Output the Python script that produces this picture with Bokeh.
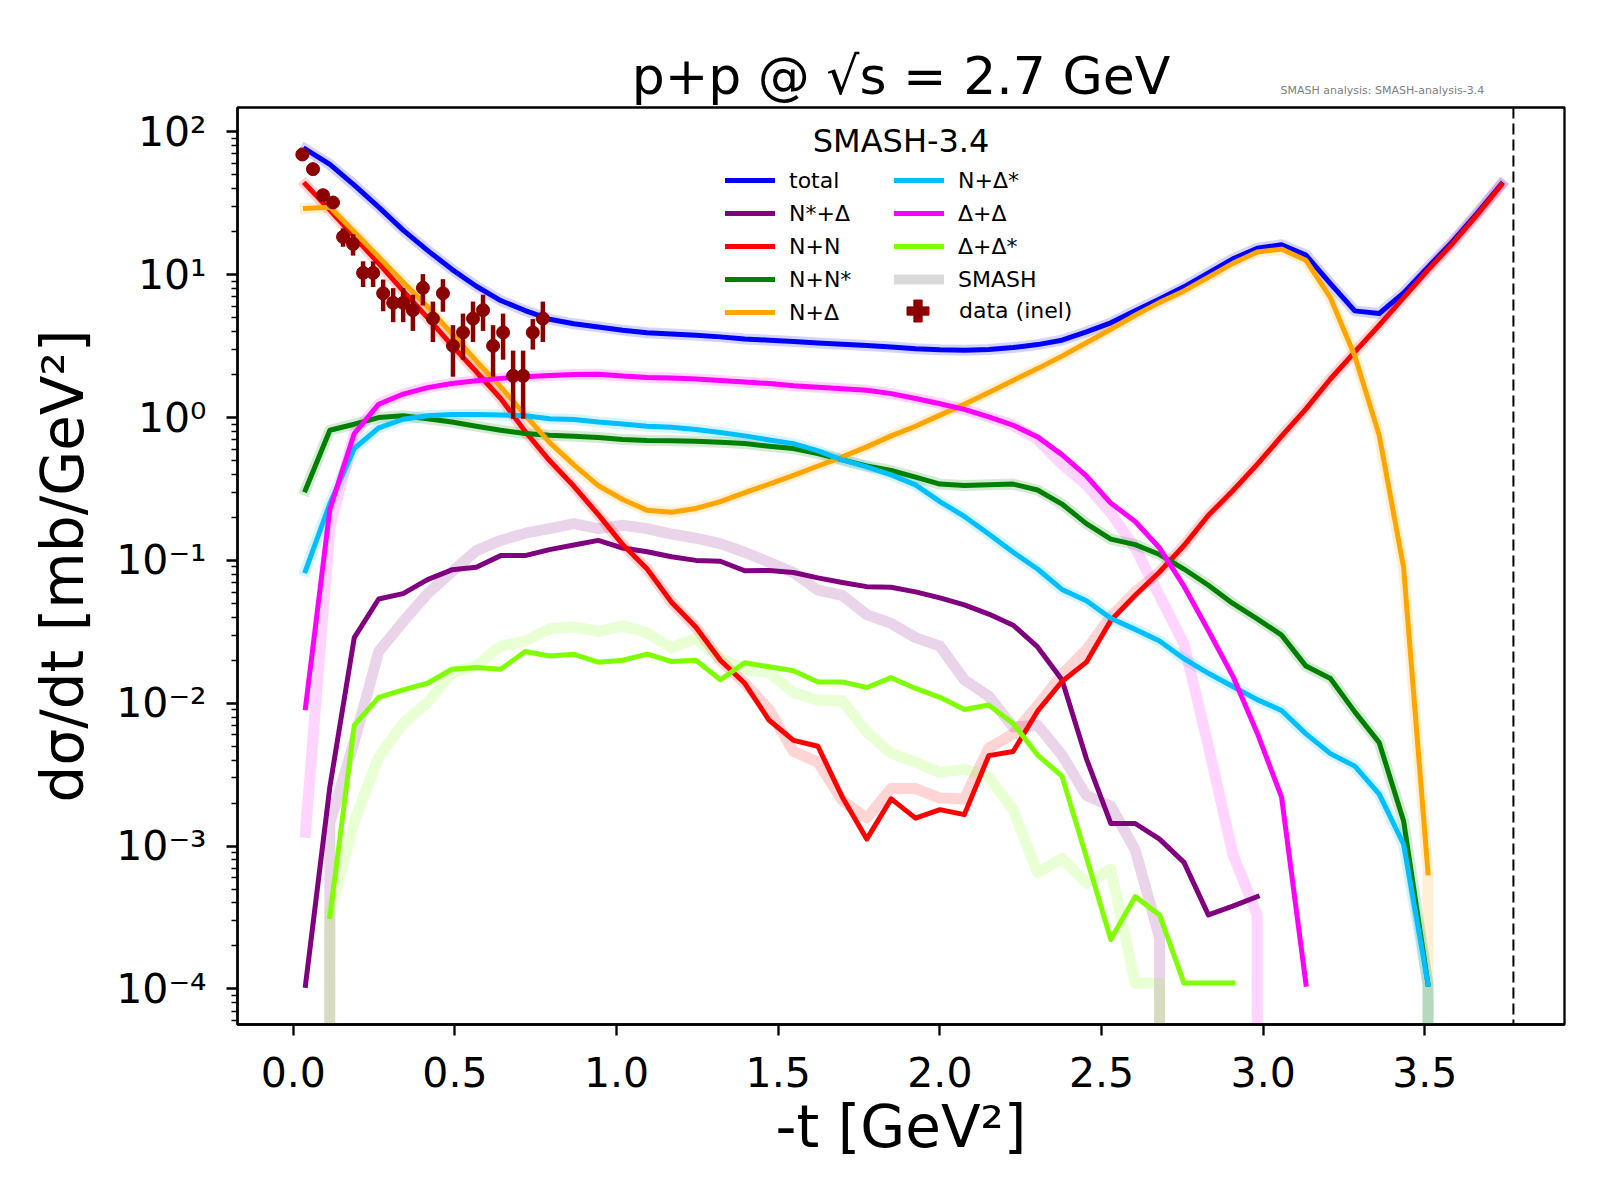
import numpy as np
from bokeh.plotting import figure
from bokeh.models import (Range1d, FixedTicker, CustomJSTickFormatter, Label,
                          Legend, LegendItem, Span, Title)
from bokeh.embed import file_html
from bokeh.resources import INLINE

FONT = "DejaVu Sans"

# ---------------- data ----------------
t_bins = [0.0377, 0.1132, 0.1887, 0.2642, 0.3397, 0.4151, 0.4906, 0.5661, 0.6416, 0.7171,
          0.7925, 0.8680, 0.9435, 1.0190, 1.0945, 1.1699, 1.2454, 1.3209, 1.3964, 1.4719,
          1.5473, 1.6228, 1.6983, 1.7738, 1.8493, 1.9247, 2.0002, 2.0757, 2.1512, 2.2267,
          2.3021, 2.3776, 2.4531, 2.5286, 2.6041, 2.6795, 2.7550, 2.8305, 2.9060, 2.9815,
          3.0569, 3.1324, 3.2079, 3.2834, 3.3589, 3.4343, 3.5098, 3.5853, 3.6608, 3.7363]
t_max = 3.774

total = [75.6, 59.1, 42.3, 29.7, 20.5, 14.8, 10.9, 8.3, 6.59, 5.61,
         4.88, 4.53, 4.31, 4.09, 3.92, 3.84, 3.77, 3.67, 3.55, 3.48,
         3.40, 3.33, 3.26, 3.19, 3.12, 3.03, 2.98, 2.96, 2.99, 3.09,
         3.24, 3.48, 3.98, 4.6, 5.6, 6.75, 8.22, 10.3, 12.9, 15.3,
         16.2, 13.7, 8.67, 5.58, 5.35, 7.46, 11.3, 17.0, 26.8, 43.0]
nstar_delta = [0.000106, 0.0026, 0.0288, 0.0537, 0.0585, 0.0734, 0.0859, 0.0895, 0.108, 0.108,
               0.119, 0.128, 0.138, 0.122, 0.115, 0.106, 0.100, 0.0986, 0.0846, 0.085,
               0.0822, 0.0755, 0.0701, 0.0655, 0.0648, 0.0602, 0.0547, 0.0488, 0.0421, 0.0352,
               0.0248, 0.0146, 0.0041, 0.00144, 0.00144, 0.00112, 0.00077, 0.00033, 0.00038, 0.000443,
               None, None, None, None, None, None, None, None, None, None]
nn = [43.0, 28.3, 18.4, 12.0, 7.7, 5.0, 3.2, 2.09, 1.36, 0.80,
      0.50, 0.33, 0.209, 0.129, 0.087, 0.051, 0.034, 0.020, 0.0138, 0.0076,
      0.0055, 0.0050, 0.0022, 0.00112, 0.00214, 0.00157, 0.0018, 0.00166, 0.0043, 0.0046,
      0.0088, 0.0142, 0.0194, 0.038, 0.057, 0.083, 0.127, 0.207, 0.307, 0.47,
      0.74, 1.15, 1.86, 2.88, 4.43, 6.9, 10.8, 16.5, 26.1, 42.4]
n_nstar = [0.311, 0.815, 0.898, 1.0, 1.03, 0.98, 0.93, 0.87, 0.815, 0.773,
           0.752, 0.74, 0.725, 0.701, 0.69, 0.688, 0.682, 0.672, 0.657, 0.630,
           0.607, 0.560, 0.505, 0.458, 0.426, 0.383, 0.342, 0.334, 0.338, 0.342,
           0.311, 0.248, 0.181, 0.141, 0.129, 0.110, 0.087, 0.067, 0.050, 0.039,
           0.030, 0.0182, 0.0149, 0.0087, 0.0053, 0.0015, 0.000108, None, None, None]
n_delta = [29.1, 29.6, 20.0, 13.3, 8.9, 5.96, 3.87, 2.49, 1.64, 1.04,
           0.67, 0.466, 0.334, 0.267, 0.224, 0.217, 0.231, 0.258, 0.298, 0.342,
           0.394, 0.458, 0.530, 0.623, 0.744, 0.869, 1.04, 1.24, 1.50, 1.82,
           2.2, 2.69, 3.34, 4.15, 5.2, 6.4, 7.7, 9.6, 12.0, 14.4,
           15.1, 12.6, 6.9, 2.7, 0.75, 0.089, 0.00065, None, None, None]
n_deltastar = [0.0846, 0.25, 0.607, 0.847, 0.973, 1.03, 1.05, 1.05, 1.04, 1.03,
               0.98, 0.97, 0.93, 0.90, 0.87, 0.855, 0.824, 0.785, 0.744, 0.697,
               0.657, 0.584, 0.505, 0.452, 0.397, 0.338, 0.258, 0.203, 0.153, 0.114,
               0.087, 0.0626, 0.0522, 0.0394, 0.0329, 0.0273, 0.0205, 0.0162, 0.0131, 0.0106,
               0.0089, 0.0061, 0.00444, 0.00363, 0.00231, 0.00103, 0.000108, None, None, None]
delta_delta = [0.0093, 0.228, 0.773, 1.24, 1.46, 1.62, 1.73, 1.81, 1.88, 1.93,
               1.97, 2.0, 2.01, 1.95, 1.91, 1.89, 1.86, 1.82, 1.77, 1.73,
               1.67, 1.63, 1.59, 1.55, 1.47, 1.36, 1.25, 1.14, 1.01, 0.883,
               0.732, 0.55, 0.39, 0.252, 0.187, 0.122, 0.066, 0.0323, 0.0155, 0.0062,
               0.0022, 0.000108, None, None, None, None, None, None, None, None]
delta_deltastar = [None, 0.000321, 0.00701, 0.0110, 0.0124, 0.0138, 0.0173, 0.0178, 0.0173, 0.0230,
                   0.0214, 0.0220, 0.0194, 0.0200, 0.0221, 0.0196, 0.0200, 0.0146, 0.0192, 0.0180,
                   0.0169, 0.0141, 0.0141, 0.0129, 0.0151, 0.0127, 0.0110, 0.00904, 0.00973, 0.00721,
                   0.00434, 0.00309, 0.00084, 0.000222, 0.000443, 0.00033, 0.00011, 0.00011, 0.00011, None,
                   None, None, None, None, None, None, None, None, None, None]

# reference SMASH curves (drawn faint); 0 = empty bin
smash_total = [75.6, 59.1, 42.3, 29.7, 20.5, 14.8, 10.9, 8.3, 6.59, 5.61,
               4.88, 4.53, 4.31, 4.09, 3.92, 3.84, 3.77, 3.67, 3.55, 3.48,
               3.40, 3.33, 3.26, 3.19, 3.12, 3.03, 2.98, 2.96, 2.99, 3.09,
               3.24, 3.48, 3.98, 4.6, 5.6, 6.75, 8.22, 10.3, 12.9, 15.3,
               16.2, 13.7, 8.67, 5.58, 5.35, 7.46, 11.3, 17.0, 26.8, 43.0]
smash_nstar_delta = [0, 0.00144, 0.0054, 0.023, 0.0372, 0.0585, 0.0831, 0.117, 0.138, 0.155,
                     0.167, 0.181, 0.167, 0.176, 0.167, 0.153, 0.143, 0.131, 0.114, 0.097,
                     0.0822, 0.0619, 0.0569, 0.0417, 0.0362, 0.0288, 0.0251, 0.0146, 0.0112, 0.00681,
                     0.00701, 0.00434, 0.00226, 0.00191, 0.00094, 0.000229, 0, None, None, None,
                     None, None, None, None, None, None, None, None, None, None]
smash_nn = [43.0, 28.3, 18.4, 12.0, 7.7, 5.0, 3.2, 2.09, 1.36, 0.80,
            0.50, 0.33, 0.209, 0.129, 0.087, 0.051, 0.034, 0.020, 0.0138, 0.00904,
            0.00459, 0.00387, 0.00208, 0.00157, 0.00253, 0.00253, 0.00217, 0.00214, 0.00486, 0.00609,
            0.00958, 0.0159, 0.0237, 0.0404, 0.06, 0.083, 0.127, 0.207, 0.307, 0.47,
            0.74, 1.15, 1.86, 2.88, 4.43, 6.9, 10.8, 16.5, 26.1, 42.4]
smash_n_nstar = [0.311, 0.815, 0.898, 1.0, 1.03, 0.98, 0.93, 0.87, 0.815, 0.773,
                 0.752, 0.74, 0.725, 0.701, 0.69, 0.688, 0.682, 0.672, 0.657, 0.630,
                 0.607, 0.560, 0.505, 0.458, 0.426, 0.383, 0.342, 0.334, 0.338, 0.342,
                 0.311, 0.248, 0.181, 0.141, 0.129, 0.110, 0.087, 0.067, 0.050, 0.039,
                 0.030, 0.0182, 0.0149, 0.0087, 0.0053, 0.0015, 0.000108, 0, None, None]
smash_n_delta = [29.1, 29.6, 20.0, 13.3, 8.9, 5.96, 3.87, 2.49, 1.64, 1.04,
                 0.67, 0.466, 0.334, 0.267, 0.224, 0.217, 0.231, 0.258, 0.298, 0.342,
                 0.394, 0.458, 0.530, 0.623, 0.744, 0.869, 1.04, 1.24, 1.50, 1.82,
                 2.2, 2.69, 3.34, 4.15, 5.2, 6.4, 7.7, 9.6, 12.0, 14.4,
                 15.1, 12.6, 6.9, 2.7, 0.75, 0.089, 0.00065, 0, None, None]
smash_n_deltastar = [0.0846, 0.25, 0.607, 0.847, 0.973, 1.03, 1.05, 1.05, 1.04, 1.03,
                     0.98, 0.97, 0.93, 0.90, 0.87, 0.855, 0.824, 0.785, 0.744, 0.697,
                     0.657, 0.584, 0.505, 0.452, 0.397, 0.338, 0.258, 0.203, 0.153, 0.114,
                     0.087, 0.0626, 0.0522, 0.0394, 0.0329, 0.0273, 0.0205, 0.0162, 0.0131, 0.0106,
                     0.0089, 0.0061, 0.00444, 0.00363, 0.00231, 0.00103, 0.000108, 0, None, None]
smash_delta_delta = [0.00125, 0.17, 0.773, 1.24, 1.46, 1.62, 1.73, 1.81, 1.88, 1.93,
                     1.97, 2.0, 2.01, 1.95, 1.91, 1.89, 1.86, 1.82, 1.77, 1.73,
                     1.67, 1.63, 1.59, 1.55, 1.47, 1.36, 1.25, 1.14, 1.01, 0.883,
                     0.70, 0.47, 0.338, 0.215, 0.122, 0.0565, 0.026, 0.005, 0.00088, 0.00033,
                     0, None, None, None, None, None, None, None, None, None]
smash_delta_deltastar = [0, 0.00034, 0.00148, 0.00421, 0.00721, 0.0101, 0.0164, 0.0183, 0.0251, 0.0273,
                         0.0332, 0.0342, 0.0319, 0.0348, 0.0311, 0.0244, 0.0284, 0.0206, 0.0173, 0.0164,
                         0.0119, 0.0105, 0.0104, 0.00627, 0.00446, 0.00387, 0.00327, 0.00346, 0.00304, 0.0018,
                         0.00065, 0.00082, 0.00055, 0.00069, 0.00011, 0.00011, 0, None, None, None,
                         None, None, None, None, None, None, None, None, None, None]

# measured inelastic data
data_t = [0.028, 0.061, 0.092, 0.123, 0.154, 0.185, 0.216, 0.247, 0.278, 0.309,
          0.340, 0.370, 0.401, 0.432, 0.463, 0.494, 0.525, 0.556, 0.587, 0.618,
          0.649, 0.680, 0.711, 0.741, 0.772]
data_val = [69.4, 54.8, 36.0, 32.0, 18.4, 16.4, 10.3, 10.3, 7.4, 6.35,
            6.35, 5.64, 8.09, 4.93, 7.4, 3.18, 3.94, 4.93, 5.64, 3.18,
            3.94, 1.96, 1.96, 3.94, 4.93]
data_err = [1.5, 1.5, 1.5, 1.5, 2.7, 2.8, 2.1, 2.1, 1.85, 1.7,
            1.7, 1.6, 2.0, 1.55, 1.9, 1.25, 1.4, 1.55, 1.6, 1.25,
            1.4, 0.98, 0.98, 0.95, 1.55]

channel_names = ["total", "N*+Δ", "N+N", "N+N*", "N+Δ", "N+Δ*", "Δ+Δ", "Δ+Δ*"]
channel_colors = ["blue", "purple", "red", "green", "orange", "deepskyblue", "magenta", "#7fff00"]
channel_values = [total, nstar_delta, nn, n_nstar, n_delta, n_deltastar, delta_delta, delta_deltastar]
smash_values = [smash_total, smash_nstar_delta, smash_nn, smash_n_nstar, smash_n_delta,
                smash_n_deltastar, smash_delta_delta, smash_delta_deltastar]

x_ticks = [0.0, 0.5, 1.0, 1.5, 2.0, 2.5, 3.0, 3.5]
x_tick_labels = ["0.0", "0.5", "1.0", "1.5", "2.0", "2.5", "3.0", "3.5"]
y_ticks = [1e-4, 1e-3, 1e-2, 1e-1, 1e0, 1e1, 1e2]
y_tick_labels = ["10⁻⁴", "10⁻³", "10⁻²", "10⁻¹", "10⁰", "10¹", "10²"]

ZERO_FLOOR = 1e-300  # empty bins drawn far below the axis, as a log plot clips them


def prep(vals):
    out = []
    for v in vals:
        if v is None:
            out.append(np.nan)
        elif v <= 0:
            out.append(ZERO_FLOOR)
        else:
            out.append(v)
    return np.array(out, dtype=float)


# ---------------- figure ----------------
p = figure(width=1600, height=1200, y_axis_type="log",
           x_range=Range1d(-0.1725, 3.932), y_range=Range1d(5.64e-5, 148.0),
           output_backend="svg", toolbar_location=None,
           min_border_left=237, min_border_right=36, min_border_top=107, min_border_bottom=176)
p.background_fill_color = "white"
p.border_fill_color = "white"
p.xgrid.visible = False
p.ygrid.visible = False
p.outline_line_color = "black"
p.outline_line_width = 2.3
p.outline_line_alpha = 1.0

# titles (subtitle closest to the frame, main title above it)
sub = Title(text="SMASH analysis: SMASH-analysis-3.4", align="left", offset=1043,
            text_font=FONT, text_font_size="11px", text_font_style="normal",
            text_color="#808080", vertical_align="top", standoff=18)
p.add_layout(sub, "above")
p.title.text = "p+p @ √s = 2.7 GeV"
p.title.align = "center"
p.title.text_font = FONT
p.title.text_font_size = "52px"
p.title.text_font_style = "normal"
p.title.text_color = "black"
p.title.vertical_align = "bottom"
p.title.standoff = -62

p.xaxis.ticker = FixedTicker(ticks=x_ticks)
p.xaxis.formatter = CustomJSTickFormatter(args=dict(tvals=x_ticks, tlabels=x_tick_labels), code="""
let best = 0, bd = Infinity;
for (let i = 0; i < tvals.length; i++) { const d = Math.abs(tvals[i] - tick); if (d < bd) { bd = d; best = i; } }
return tlabels[best];
""")
y_minor = [m * 10.0 ** n for n in range(-5, 3) for m in range(2, 10)]
p.yaxis.ticker = FixedTicker(ticks=y_ticks, minor_ticks=y_minor)
p.yaxis.formatter = CustomJSTickFormatter(args=dict(tvals=y_ticks, tlabels=y_tick_labels), code="""
let best = 0, bd = Infinity;
for (let i = 0; i < tvals.length; i++) { const d = Math.abs(Math.log10(tvals[i]) - Math.log10(tick)); if (d < bd) { bd = d; best = i; } }
return tlabels[best];
""")

for ax in (p.xaxis[0], p.yaxis[0]):
    ax.axis_line_color = "black"
    ax.axis_line_width = 2.3
    ax.major_tick_line_color = "black"
    ax.major_tick_line_width = 2.3
    ax.major_tick_out = 11
    ax.major_tick_in = 0
    ax.major_label_text_font = FONT
    ax.major_label_text_font_size = "41px"
    ax.major_label_text_color = "black"
    ax.axis_label_text_font = FONT
    ax.axis_label_text_font_size = "58px"
    ax.axis_label_text_font_style = "normal"
    ax.axis_label_text_color = "black"

p.xaxis.minor_tick_line_color = None
p.yaxis.minor_tick_line_color = "black"
p.yaxis.minor_tick_line_width = 1.6
p.yaxis.minor_tick_out = 6
p.yaxis.minor_tick_in = 0
p.xaxis.major_label_standoff = 21
p.yaxis.major_label_standoff = 20
p.xaxis.axis_label = "-t [GeV²]"
p.yaxis.axis_label = "dσ/dt [mb/GeV²]"
p.xaxis.axis_label_standoff = 3
p.yaxis.axis_label_standoff = 16

x_arr = np.array(t_bins, dtype=float)

# faint reference curves
for vals, col in zip(smash_values, channel_colors):
    p.line(x_arr, prep(vals), line_color=col, line_width=11, line_alpha=0.17,
           line_join="round", line_cap="square")

# main curves
main_renderers = []
for vals, col in zip(channel_values, channel_colors):
    r = p.line(x_arr, prep(vals), line_color=col, line_width=5,
               line_join="round", line_cap="square")
    main_renderers.append(r)

# data with error bars
d_val = np.array(data_val)
d_err = np.array(data_err)
p.segment(x0=data_t, y0=d_val - d_err, x1=data_t, y1=d_val + d_err,
          line_color="darkred", line_width=4.5)
p.scatter(data_t, data_val, size=13, color="darkred")

# kinematic limit
p.add_layout(Span(location=t_max, dimension="height", line_color="black",
                  line_width=2, line_dash="11 5"))

# legend-only glyphs (one undrawn NaN point each, so the legend can render them)
nan_pt = [np.nan]
smash_r = p.line(nan_pt, nan_pt, line_color="#d9d9d9", line_width=10, line_cap="square")
data_r = p.scatter(nan_pt, nan_pt, marker="plus", size=22, color="darkred")

common = dict(orientation="vertical", padding=0, margin=0, spacing=7,
              glyph_width=50, glyph_height=26, label_height=26, label_standoff=14,
              label_text_font=FONT, label_text_font_size="22px", label_text_color="black",
              border_line_color=None, background_fill_alpha=0.0)
items1 = [LegendItem(label=channel_names[i], renderers=[main_renderers[i]]) for i in range(5)]
items2 = [LegendItem(label=channel_names[i], renderers=[main_renderers[i]]) for i in range(5, 8)]
items2.append(LegendItem(label="SMASH", renderers=[smash_r]))
leg1 = Legend(items=items1, location=(488, 699), **common)
leg2 = Legend(items=items2, location=(657, 732), **common)
# data entry: its own legend so the marker can be drawn at full size
common3 = dict(common)
common3.update(glyph_width=55, glyph_height=55, label_height=26)
leg3 = Legend(items=[LegendItem(label="data (inel)", renderers=[data_r])],
              location=(653, 686), **common3)
p.add_layout(leg1)
p.add_layout(leg2)
p.add_layout(leg3)

# legend heading
p.add_layout(Label(x=1.88, y=86.1, text="SMASH-3.4", text_font=FONT,
                   text_font_size="32px", text_align="center", text_baseline="middle",
                   text_color="black"))

open("out.html", "w").write(file_html(p, INLINE))
